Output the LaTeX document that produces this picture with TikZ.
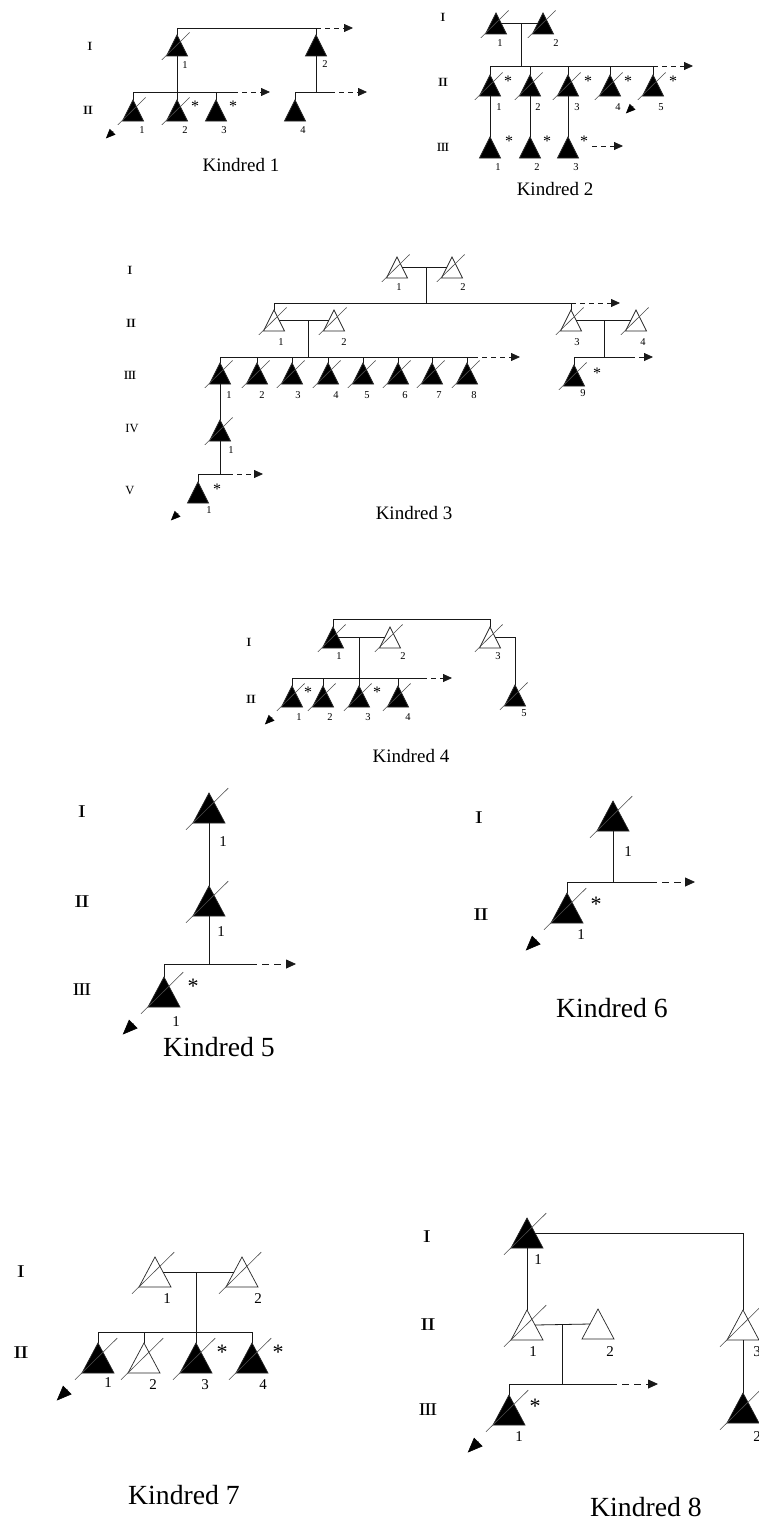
\documentclass[tikz,border=0pt]{standalone}
\usepackage{fontspec}
\setmainfont{Liberation Serif}
\usetikzlibrary{calc,arrows.meta}

% one pedigree member: #1 fill, #2 name, #3/#4 apex, #5 number, #6 number position
\newcommand\person[6]{%
  \node[tri] (#2) at (#3,{#4+\th/2}) {};
  \filldraw[tri line,fill=#1] (#2.north) -- (#2.south east) -- (#2.south west) -- cycle;
  \coordinate (#2-l) at ($(#2.north)!.5!(#2.south west)$);
  \coordinate (#2-r) at ($(#2.north)!.5!(#2.south east)$);
  \node[numlab] (#2-n) at (#6) {#5};
}
% deceased mark
\newcommand\deceased[1]{\draw[slashline] ([shift={(-0.72*\tw,0.68*\tw)}]#1.center) -- ([shift={(0.6*\tw,-0.62*\tw)}]#1.center);}
% proband arrow
\newcommand\probarrow[1]{\draw[probtip] ([shift={(-0.95*\tw,0.99*\tw)}]#1.center) -- ([shift={(-1.29*\tw,1.33*\tw)}]#1.center);}
% affected-examined mark
\newcommand\astmark[3]{\node[astlab] (#1-a) at (#2,#3) {*};}
% generation numerals
\newcommand\gI{\scalebox{1.35}[1]{I}}
\newcommand\gII{\scalebox{1.45}[1]{I\kern-.07em I}}
\newcommand\gIII{\scalebox{1.2}[1]{I\kern-.07em I\kern-.07em I}}
\newcommand\gIV{IV}
\newcommand\gV{V}

\begin{document}
\begin{tikzpicture}[x=1pt,y=-1pt,
  conn/.style={line width=0.8pt,black!90},
  tri/.style={inner sep=0pt,outer sep=0pt,minimum width=\tw pt,minimum height=\th pt},
  tri line/.style={line width=0.7pt,draw=black!85},
  slashline/.style={line width=0.6pt,black!70},
  small/.style={
    numlab/.style={inner sep=0pt,font=\fontsize{10.5}{12}\selectfont},
    astlab/.style={inner sep=0pt,font=\fontsize{16}{18}\selectfont},
    gen/.style={inner sep=0pt,font=\fontsize{12.5}{14}\selectfont},
    kin/.style={inner sep=0pt,font=\fontsize{19}{22}\selectfont},
    dasharr/.style={conn,dash pattern=on 5pt off 4pt,-{Triangle[length=9pt,width=8pt]}},
    probtip/.style={line width=0.6pt,-{Triangle[length=9.5pt,width=8pt]}}},
  big/.style={
    numlab/.style={inner sep=0pt,font=\fontsize{15}{17}\selectfont},
    astlab/.style={inner sep=0pt,font=\fontsize{22}{24}\selectfont},
    gen/.style={inner sep=0pt,font=\fontsize{18}{20}\selectfont},
    kin/.style={inner sep=0pt,font=\fontsize{27.7}{32}\selectfont},
    dasharr/.style={conn,dash pattern=on 7pt off 5pt,-{Triangle[length=10pt,width=9pt]}},
    probtip/.style={line width=0.6pt,-{Triangle[length=15pt,width=12pt]}}}
]
\fill[white] (0,0) rectangle (758,1520);
\useasboundingbox (0,0) rectangle (758,1520);

%% ---------------- Kindred 1 ----------------
\begin{scope}[small]
\def\tw{21}\def\th{21}
\node[gen] (K1g1) at (90,46) {\gI};
\node[gen] (K1g2) at (88,110) {\gII};
\person{black}{K1a}{177}{35}{1}{185,65}
\person{black}{K1b}{316}{35}{2}{325,64}
\person{black}{K1c}{133}{100}{1}{142,130}
\person{black}{K1d}{177}{100}{2}{185,130}
\person{black}{K1e}{216}{100}{3}{224,130}
\person{black}{K1f}{295}{100}{4}{303,130}
\deceased{K1a}\deceased{K1c}\deceased{K1d}
\probarrow{K1c}
\astmark{K1d}{195}{106}\astmark{K1e}{233}{106}
\coordinate (K1top) at (316,28);
\coordinate (K1topend) at (353,28);
\draw[conn] (K1a.north) |- (K1top) -- (K1b.north);
\draw[dasharr] (K1top) -- (K1topend);
\coordinate (K1s) at (177,92);
\coordinate (K1sd) at (233,92);
\coordinate (K1se) at (270,92);
\draw[conn] (K1a.south) -- (K1d.north);
\draw[conn] (K1c.north) |- (K1sd);
\draw[conn] (K1e.north) -- (K1e.north |- K1s);
\draw[dasharr] (K1sd) -- (K1se);
\coordinate (K1t) at (316,92);
\coordinate (K1td) at (330,92);
\coordinate (K1te) at (367,92);
\draw[conn] (K1b.south) -- (K1t);
\draw[conn] (K1f.north) |- (K1td);
\draw[dasharr] (K1td) -- (K1te);
\node[kin] (K1cap) at (241,165) {Kindred 1};
\end{scope}

%% ---------------- Kindred 2 ----------------
\begin{scope}[small]
\def\tw{21}\def\th{21}
\node[gen] (K2g1) at (443,17) {\gI};
\node[gen] (K2g2) at (443,82) {\gII};
\node[gen] (K2g3) at (443,147) {\gIII};
\person{black}{K2a}{496}{13}{1}{500,43}
\person{black}{K2b}{543}{13}{2}{556,43}
\person{black}{K2c}{490}{75}{1}{499,107}
\person{black}{K2d}{530}{75}{2}{538,107}
\person{black}{K2e}{568}{75}{3}{577,107}
\person{black}{K2f}{610}{75}{4}{618,107}
\person{black}{K2g}{653}{75}{5}{661,107}
\person{black}{K2h}{490}{137}{1}{498,167}
\person{black}{K2i}{530}{137}{2}{537,167}
\person{black}{K2j}{568}{137}{3}{576,167}
\foreach \p in {a,b,c,d,e,f,g} {\deceased{K2\p}}
\probarrow{K2g}
\astmark{K2c}{508}{81}\astmark{K2e}{588}{81}\astmark{K2f}{628}{81}\astmark{K2g}{673}{81}
\astmark{K2h}{509}{141}\astmark{K2i}{547}{141}\astmark{K2j}{584}{141}
\coordinate (K2s) at (521,66);
\coordinate (K2se) at (693,66);
\draw[conn] (K2a-r) -- (K2b-l);
\draw[conn] (K2s |- K2a-r) -- (K2s);
\draw[conn] (K2c.north) |- (K2g.north |- K2s) -- (K2g.north);
\foreach \p in {d,e,f} {\draw[conn] (K2\p.north) -- (K2\p.north |- K2s);}
\draw[dasharr] (K2g.north |- K2s) -- (K2se);
\draw[conn] (K2c.south) -- (K2h.north);
\draw[conn] (K2d.south) -- (K2i.north);
\draw[conn] (K2e.south) -- (K2j.north);
\coordinate (K2x1) at (592,146);
\coordinate (K2x2) at (623,146);
\draw[dasharr] (K2x1) -- (K2x2);
\node[kin] (K2cap) at (555,189) {Kindred 2};
\end{scope}

%% ---------------- Kindred 3 ----------------
\begin{scope}[small]
\def\tw{21}\def\th{21}
\node[gen] (K3g1) at (130,270) {\gI};
\node[gen] (K3g2) at (131,323) {\gII};
\node[gen] (K3g3) at (130,375) {\gIII};
\node[gen] (K3g4) at (132,428) {\gIV};
\node[gen] (K3g5) at (130,490) {\gV};
\person{white}{K3a}{397}{257}{1}{399,287}
\person{white}{K3b}{452}{257}{2}{463,287}
\person{white}{K3c}{274}{310}{1}{281,342}
\person{white}{K3d}{334}{310}{2}{344,342}
\person{white}{K3e}{571}{310}{3}{577,342}
\person{white}{K3f}{636}{310}{4}{643,342}
\foreach \p/\n/\x/\lx in {g/1/220/229,h/2/257/262,i/3/292/298,j/4/328/336,k/5/363/367,m/6/398/405,n/7/432/439,o/8/467/474}
  {\person{black}{K3\p}{\x}{363}{\n}{\lx,395}\deceased{K3\p}}
\person{black}{K3q}{574}{365}{9}{583,393}
\person{black}{K3r}{220}{420}{1}{231,450}
\person{black}{K3w}{198}{482}{1}{209,510}
\foreach \p in {a,b,c,d,e,f,q,r} {\deceased{K3\p}}
\probarrow{K3w}
\astmark{K3q}{597}{373}\astmark{K3w}{217}{489}
\coordinate (K3s) at (426,303);
\coordinate (K3se) at (620,303);
\draw[conn] (K3a-r) -- (K3b-l);
\draw[conn] (K3s |- K3a-r) -- (K3s);
\draw[conn] (K3c.north) |- (K3e.north |- K3s) -- (K3e.north);
\draw[dasharr] (K3e.north |- K3s) -- (K3se);
\coordinate (K3t) at (308,357);
\coordinate (K3td) at (473,357);
\coordinate (K3te) at (520,357);
\draw[conn] (K3c-r) -- (K3d-l);
\draw[conn] (K3t |- K3c-r) -- (K3t);
\draw[conn] (K3g.north) |- (K3td);
\foreach \p in {h,i,j,k,m,n,o} {\draw[conn] (K3\p.north) -- (K3\p.north |- K3t);}
\draw[dasharr] (K3td) -- (K3te);
\coordinate (K3u) at (604,357);
\coordinate (K3ud) at (630,357);
\coordinate (K3ue) at (653,357);
\draw[conn] (K3e-r) -- (K3f-l);
\draw[conn] (K3u |- K3e-r) -- (K3u);
\draw[conn] (K3q.north) |- (K3ud);
\draw[dasharr] (K3ud) -- (K3ue);
\draw[conn] (K3g.south) -- (K3r.north);
\coordinate (K3v) at (220,474);
\coordinate (K3vd) at (228,474);
\coordinate (K3ve) at (263,474);
\draw[conn] (K3r.south) -- (K3v);
\draw[conn] (K3w.north) |- (K3vd);
\draw[dasharr] (K3vd) -- (K3ve);
\node[kin] (K3cap) at (414,513) {Kindred 3};
\end{scope}

%% ---------------- Kindred 4 ----------------
\begin{scope}[small]
\def\tw{21}\def\th{21}
\node[gen] (K4g1) at (249,642) {\gI};
\node[gen] (K4g2) at (251,699) {\gII};
\person{black}{K4a}{333}{627}{1}{339,656}
\person{white}{K4b}{390}{627}{2}{403,656}
\person{white}{K4c}{490}{627}{3}{498,656}
\person{black}{K4d}{292}{686}{1}{299,717}
\person{black}{K4e}{323}{686}{2}{330,717}
\person{black}{K4f}{359}{686}{3}{368,717}
\person{black}{K4g}{398}{686}{4}{408,717}
\person{black}{K4h}{515}{685}{5}{524,713}
\foreach \p in {a,b,c,d,e,f,g,h} {\deceased{K4\p}}
\probarrow{K4d}
\astmark{K4d}{308}{692}\astmark{K4f}{377}{692}
\coordinate (K4top) at (490,619);
\draw[conn] (K4a.north) |- (K4top) -- (K4c.north);
\draw[conn] (K4a-r) -- (K4b-l);
\coordinate (K4s) at (359,678);
\coordinate (K4sd) at (422,678);
\coordinate (K4se) at (452,678);
\draw[conn] (K4s |- K4a-r) -- (K4f.north);
\draw[conn] (K4d.north) |- (K4sd);
\foreach \p in {e,g} {\draw[conn] (K4\p.north) -- (K4\p.north |- K4s);}
\draw[dasharr] (K4sd) -- (K4se);
\draw[conn] (K4c-r) -| (K4h.north);
\node[kin] (K4cap) at (411,756) {Kindred 4};
\end{scope}

%% ---------------- Kindred 5 ----------------
\begin{scope}[big]
\def\tw{32}\def\th{30}
\node[gen] (K5g1) at (82,812) {\gI};
\node[gen] (K5g2) at (82,902) {\gII};
\node[gen] (K5g3) at (82,990) {\gIII};
\person{black}{K5a}{209}{793}{1}{223,842}
\person{black}{K5b}{209}{886}{1}{221,932}
\person{black}{K5c}{164}{977}{1}{176,1022}
\foreach \p in {a,b,c} {\deceased{K5\p}}
\probarrow{K5c}
\astmark{K5c}{193}{986}
\draw[conn] (K5a.south) -- (K5b.north);
\coordinate (K5s) at (209,964);
\coordinate (K5sd) at (250,964);
\coordinate (K5se) at (296,964);
\draw[conn] (K5b.south) -- (K5s);
\draw[conn] (K5c.north) |- (K5sd);
\draw[dasharr] (K5sd) -- (K5se);
\node[kin] (K5cap) at (219,1047) {Kindred 5};
\end{scope}

%% ---------------- Kindred 6 ----------------
\begin{scope}[big]
\def\tw{32}\def\th{30}
\node[gen] (K6g1) at (479,818) {\gI};
\node[gen] (K6g2) at (481,915) {\gII};
\person{black}{K6a}{613}{801}{1}{628,852}
\person{black}{K6b}{567}{893}{1}{581,935}
\deceased{K6a}\deceased{K6b}
\probarrow{K6b}
\astmark{K6b}{596}{904}
\coordinate (K6s) at (613,882);
\coordinate (K6sd) at (650,882);
\coordinate (K6se) at (695,882);
\draw[conn] (K6a.south) -- (K6s);
\draw[conn] (K6b.north) |- (K6sd);
\draw[dasharr] (K6sd) -- (K6se);
\node[kin] (K6cap) at (612,1008) {Kindred 6};
\end{scope}

%% ---------------- Kindred 7 ----------------
\begin{scope}[big]
\def\tw{32}\def\th{30}
\node[gen] (K7g1) at (21,1272) {\gI};
\node[gen] (K7g2) at (21,1353) {\gII};
\person{white}{K7a}{155}{1257}{1}{167,1299}
\person{white}{K7b}{242}{1257}{2}{258,1299}
\person{black}{K7c}{98}{1343}{1}{108,1383}
\person{white}{K7d}{144}{1343}{2}{153,1385}
\person{black}{K7e}{196}{1343}{3}{205,1385}
\person{black}{K7f}{252}{1343}{4}{263,1385}
\foreach \p in {a,b,c,d,e,f} {\deceased{K7\p}}
\probarrow{K7c}
\astmark{K7e}{222}{1352}\astmark{K7f}{278}{1352}
\coordinate (K7s) at (196,1332);
\draw[conn] (K7a-r) -- (K7b-l);
\draw[conn] (K7s |- K7a-r) -- (K7e.north);
\draw[conn] (K7c.north) |- (K7f.north |- K7s) -- (K7f.north);
\draw[conn] (K7d.north) -- (K7d.north |- K7s);
\node[kin] (K7cap) at (184,1495) {Kindred 7};
\end{scope}

%% ---------------- Kindred 8 ----------------
\begin{scope}[big]
\def\tw{32}\def\th{30}
\node[gen] (K8g1) at (427,1237) {\gI};
\node[gen] (K8g2) at (428,1325) {\gII};
\node[gen] (K8g3) at (428,1410) {\gIII};
\person{black}{K8a}{527}{1218}{1}{538,1260}
\person{white}{K8b}{527}{1310}{1}{533,1352}
\person{white}{K8c}{598}{1309}{2}{610,1352}
\person{white}{K8d}{743}{1310}{3}{757,1352}
\person{black}{K8e}{509}{1395}{1}{519,1437}
\person{black}{K8f}{743}{1393}{2}{757,1437}
\foreach \p in {a,b,d,e,f} {\deceased{K8\p}}
\probarrow{K8e}
\astmark{K8e}{535}{1406}
\draw[conn] (K8a-r) -| (K8d.north);
\draw[conn] (K8a.south) -- (K8b.north);
\draw[conn] (K8b-r) -- (K8c-l);
\coordinate (K8s) at (562,1384);
\coordinate (K8sd) at (610,1384);
\coordinate (K8se) at (658,1384);
\draw[conn] (K8s |- K8b-r) -- (K8s);
\draw[conn] (K8e.north) |- (K8sd);
\draw[dasharr] (K8sd) -- (K8se);
\draw[conn] (K8d.south) -- (K8f.north);
\node[kin] (K8cap) at (646,1507) {Kindred 8};
\end{scope}
\end{tikzpicture}
\end{document}
